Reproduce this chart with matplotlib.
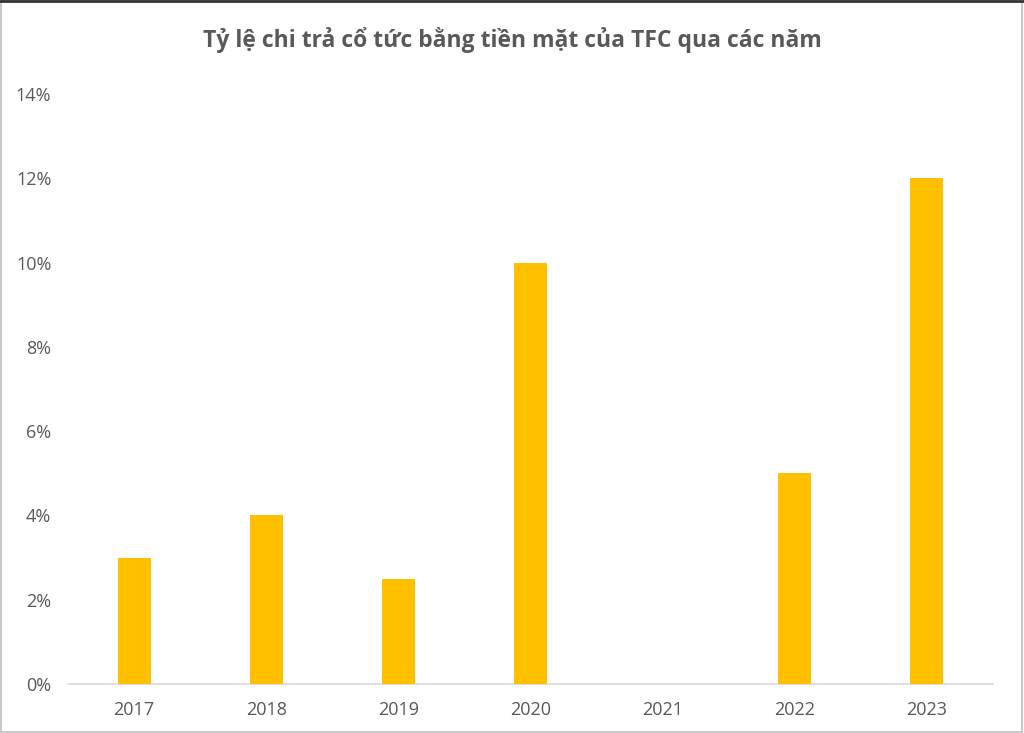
import matplotlib
matplotlib.use("Agg")
import matplotlib.pyplot as plt
from matplotlib.patches import Rectangle
from matplotlib.lines import Line2D

years = ["2017", "2018", "2019", "2020", "2021", "2022", "2023"]
payout = [3, 4, 2.5, 10, 0, 5, 12]
yticks = [0, 2, 4, 6, 8, 10, 12, 14]
title = "Tỷ lệ chi trả cổ tức bằng tiền mặt của TFC qua các năm"

plt.rcParams['font.family'] = ['Open Sans', 'DejaVu Sans']

fig = plt.figure(figsize=(10.24, 7.33), dpi=100)
ax = fig.add_axes([68/1024, 49/733, 925/1024, (684-94)/733])

x = list(range(len(years)))
ax.bar(x, payout, width=0.25, color="#FFC000", zorder=3)
ax.set_xlim(-0.5, len(years) - 0.5)
ax.set_ylim(0, 14)
ax.set_yticks(yticks)
ax.set_yticklabels([f"{v}%" for v in yticks])
ax.set_xticks(x)
ax.set_xticklabels(years)
ax.tick_params(axis='both', length=0, labelsize=13, labelcolor="#595959")
ax.tick_params(axis='y', pad=12)
ax.tick_params(axis='x', pad=12)
for s in ['top', 'right', 'left']:
    ax.spines[s].set_visible(False)
ax.spines['bottom'].set_color("#D9D9D9")
ax.spines['bottom'].set_linewidth(1.2)

fig.text(512/1024, 1 - 40/733, title, ha='center', va='center',
         fontsize=16.5, fontweight='bold', color="#595959")

# figure border
fig.patches.append(Rectangle((0.001, 0.001), 0.997, 0.997, transform=fig.transFigure,
                             fill=False, edgecolor="#BFBFBF", linewidth=1.2))
fig.lines.append(Line2D([0, 1], [0.998, 0.998], transform=fig.transFigure,
                        color="#333333", linewidth=2))

fig.savefig("out.png", dpi=100)
